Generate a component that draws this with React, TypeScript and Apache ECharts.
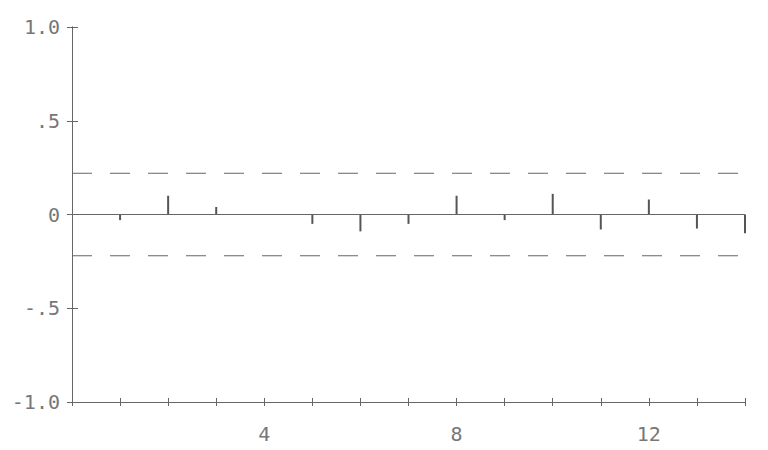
import React, { useEffect, useRef } from "react";
import * as echarts from "echarts";

const lags = [1, 2, 3, 4, 5, 6, 7, 8, 9, 10, 11, 12, 13, 14];
const acf = [-0.03, 0.1, 0.04, 0.0, -0.05, -0.09, -0.05, 0.1, -0.03, 0.11, -0.08, 0.08, -0.075, -0.1];
const bandUpper = 0.22;
const bandLower = -0.22;
const xLabelTicks = [4, 8, 12];
const yTickLabels: Record<string, string> = { "1": "1.0", "0.5": ".5", "0": "0", "-0.5": "-.5", "-1": "-1.0" };

const LINE = "#666";
const TEXT = "#777";
const FONT = "'DejaVu Sans Mono', monospace";

export default function App() {
  const ref = useRef<HTMLDivElement>(null);
  useEffect(() => {
    if (!ref.current) return;
    const chart = echarts.init(ref.current, undefined, { renderer: "svg" });
    const gridBox = { left: 72, right: 23, top: 27, bottom: 48, containLabel: false };
    const xBase = {
      type: "value" as const,
      min: 0,
      max: 14,
      interval: 1,
      splitLine: { show: false },
      position: "bottom" as const,
    };
    const yBase = {
      type: "value" as const,
      min: -1,
      max: 1,
      interval: 0.5,
      splitLine: { show: false },
      position: "left" as const,
    };
    chart.setOption({
      animation: false,
      backgroundColor: "#fff",
      grid: [gridBox, gridBox],
      xAxis: [
        {
          ...xBase,
          gridIndex: 0,
          axisLine: { show: true, onZero: false, lineStyle: { color: LINE, width: 1 } },
          axisTick: { show: true, length: 4, lineStyle: { color: LINE } },
          axisLabel: {
            margin: 22,
            color: TEXT,
            fontFamily: FONT,
            fontSize: 20,
            formatter: (v: number) => (xLabelTicks.includes(v) ? String(v) : ""),
          },
        },
        {
          ...xBase,
          gridIndex: 1,
          show: true,
          axisLine: { show: true, onZero: false, lineStyle: { color: LINE, width: 1 } },
          axisTick: { show: true, inside: true, length: 4, lineStyle: { color: LINE, width: 1 } },
          axisLabel: { show: false },
        },
      ],
      yAxis: [
        {
          ...yBase,
          gridIndex: 0,
          axisLine: { show: true, onZero: false, lineStyle: { color: LINE, width: 1 } },
          axisTick: { show: true, length: 5, lineStyle: { color: LINE } },
          axisLabel: {
            margin: 12,
            color: TEXT,
            fontFamily: FONT,
            fontSize: 20,
            formatter: (v: number) => yTickLabels[String(v)] ?? "",
          },
        },
        {
          ...yBase,
          gridIndex: 1,
          show: true,
          axisLine: { show: true, onZero: false, lineStyle: { color: LINE, width: 1 } },
          axisTick: { show: true, inside: true, length: 6, lineStyle: { color: LINE, width: 1 } },
          axisLabel: { show: false },
        },
      ],
      series: [
        {
          type: "line",
          data: [[0, 0], [14, 0]],
          symbol: "none",
          lineStyle: { color: LINE, width: 1 },
          silent: true,
        },
        {
          type: "line",
          data: [[0, bandUpper], [14.35, bandUpper]],
          symbol: "none",
          clip: false,
          lineStyle: { color: LINE, width: 1, type: [20, 18] },
          silent: true,
        },
        {
          type: "line",
          data: [[0, bandLower], [14.35, bandLower]],
          symbol: "none",
          clip: false,
          lineStyle: { color: LINE, width: 1, type: [20, 18] },
          silent: true,
        },
        {
          type: "bar",
          data: lags.map((l, i) => [l, acf[i]]),
          barWidth: 2,
          itemStyle: { color: "#555" },
          silent: true,
        },
        {
          type: "line",
          xAxisIndex: 1,
          yAxisIndex: 1,
          data: [[0, -1], [14, 1]],
          symbol: "none",
          lineStyle: { opacity: 0 },
          silent: true,
        },
      ],
    });
    return () => chart.dispose();
  }, []);
  return (
    <div
      ref={ref}
      style={{ position: "fixed", left: 0, top: 0, width: 768, height: 450 }}
    />
  );
}
